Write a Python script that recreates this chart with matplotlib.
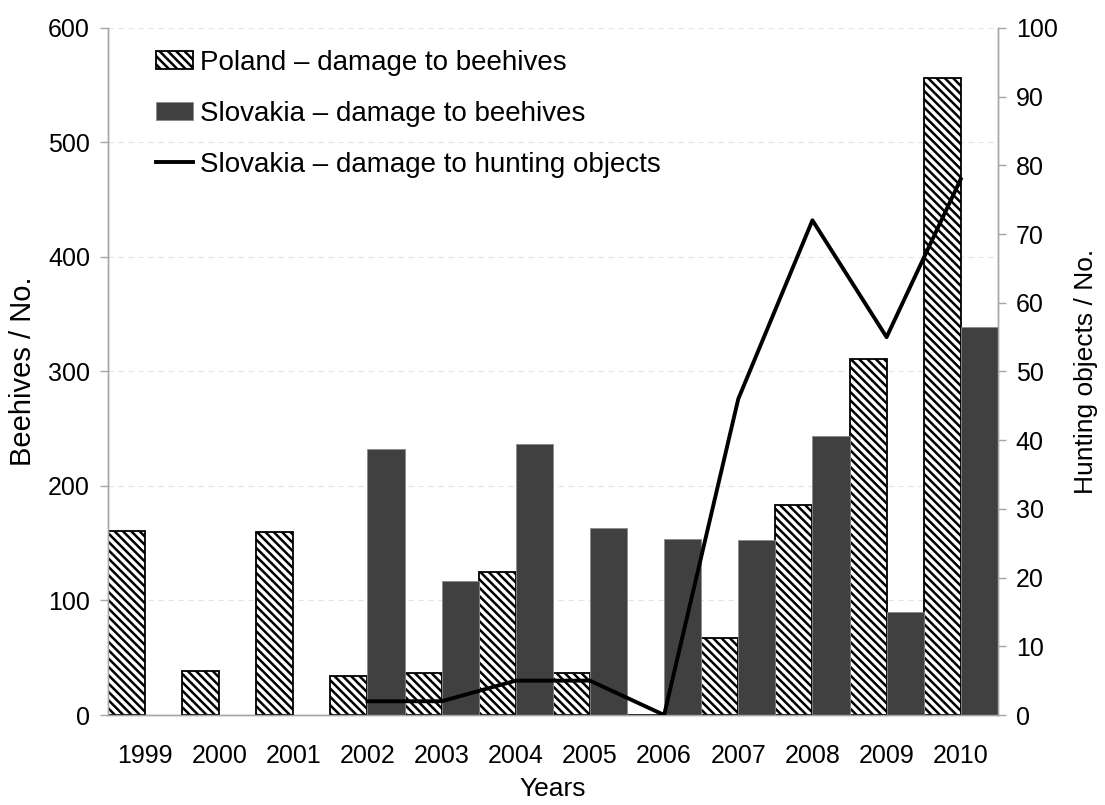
import numpy as np
import matplotlib
matplotlib.use("Agg")
import matplotlib.pyplot as plt

plt.rcParams["font.family"] = ["Liberation Sans", "DejaVu Sans"]
plt.rcParams["hatch.linewidth"] = 1.8

years = ["1999", "2000", "2001", "2002", "2003", "2004", "2005",
         "2006", "2007", "2008", "2009", "2010"]
poland_beehives = [161, 38, 160, 34, 37, 125, 37, 0, 67, 183, 311, 556]
slovakia_beehives = [0, 0, 0, 232, 117, 237, 163, 154, 153, 244, 90, 339]
hunting_years = ["2002", "2003", "2004", "2005", "2006", "2007", "2008", "2009", "2010"]
slovakia_hunting = [2, 2, 5, 5, 0, 46, 72, 55, 78]

x = np.arange(len(years))
xh = np.array([years.index(y) for y in hunting_years])

fig = plt.figure(figsize=(11.05, 8.05), dpi=100)
ax = fig.add_axes([0.0977, 0.1118, 0.8053, 0.8535])
ax2 = ax.twinx()

spine_c = "#a6a6a6"
w = 0.5
b1 = ax.bar(x - w / 2, poland_beehives, width=w, color="white", edgecolor="black",
            linewidth=1.3, hatch="\\\\\\\\", label="Poland – damage to beehives", zorder=3)
sk = [v if v > 0 else np.nan for v in slovakia_beehives]
b2 = ax.bar(x + w / 2, sk, width=w, color="#404040", edgecolor="#8a8a8a",
            linewidth=0.6, label="Slovakia – damage to beehives", zorder=3)
l1, = ax2.plot(xh, slovakia_hunting, color="black", linewidth=2.8,
               label="Slovakia – damage to hunting objects", zorder=4)

ax.set_xlim(-0.5, 11.5)
ax.set_ylim(0, 600)
ax.set_yticks(range(0, 601, 100))
ax2.set_ylim(0, 100)
ax2.set_yticks(range(0, 101, 10))
ax.set_xticks(x)
ax.set_xticklabels(years)

ax.yaxis.grid(True, color="#e4e4e4", linestyle=(0, (5, 4)), linewidth=0.8, zorder=0)
ax.set_axisbelow(True)

for a in (ax, ax2):
    a.spines["top"].set_visible(False)
    for s in ("left", "right", "bottom"):
        a.spines[s].set_color(spine_c)
        a.spines[s].set_linewidth(1.0)
    a.tick_params(axis="y", colors=spine_c, labelcolor="black", labelsize=18,
                  length=6, width=1.0, pad=7)
ax.tick_params(axis="x", length=0, labelsize=18, pad=21)

ax.set_ylabel("Beehives / No.", fontsize=21, labelpad=8)
ax2.set_ylabel("Hunting objects / No.", fontsize=19, labelpad=12)
ax.set_xlabel("Years", fontsize=19, labelpad=6)

leg = ax.legend(handles=[b1, b2, l1], loc="upper left", frameon=False,
                fontsize=20, bbox_to_anchor=(0.054, 0.968), handlelength=1.33,
                handleheight=0.65, handletextpad=0.25, labelspacing=0.9,
                borderaxespad=0.0, borderpad=0.0)

fig.savefig("out.png", dpi=100)
